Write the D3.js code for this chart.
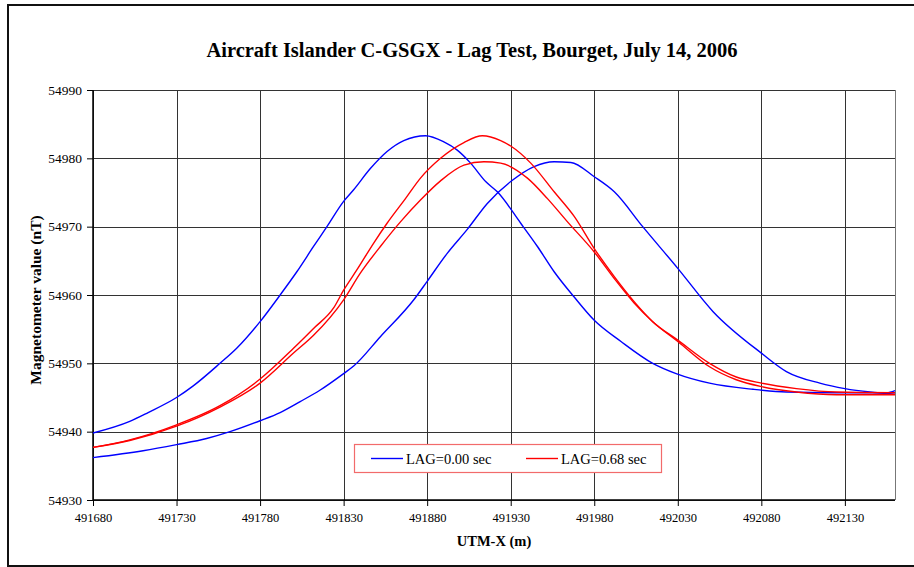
<!DOCTYPE html>
<html>
<head>
<meta charset="utf-8">
<script src="https://cdn.jsdelivr.net/npm/d3@7"></script>
<style>
  body { margin: 0; background: #fff; }
  svg text { font-family: "Liberation Serif", "DejaVu Serif", serif; }
</style>
</head>
<body>
<div id="chart"></div>
<script>
// tick values
const xTicks = [491680, 491730, 491780, 491830, 491880, 491930, 491980, 492030, 492080, 492130];
const yTicks = [54930, 54940, 54950, 54960, 54970, 54980, 54990];

// LAG=0.00 sec, first pass (early peak)
const blueA = [
  [491680, 54939.8], [491702, 54941.5], [491713, 54942.8], [491730, 54945.0], [491740, 54946.7],
  [491756, 54950.0], [491766, 54952.2], [491780, 54956.1], [491792, 54960.0], [491802, 54963.4],
  [491812, 54967.1], [491820, 54970.0], [491830, 54973.7], [491836, 54975.4], [491846, 54978.5],
  [491856, 54981.0], [491866, 54982.6], [491879, 54983.3], [491890, 54982.4], [491898, 54981.2],
  [491906, 54979.3], [491915, 54976.6], [491922, 54975.1], [491936, 54970.5], [491946, 54967.1],
  [491956, 54963.4], [491968, 54959.7], [491980, 54956.3], [491996, 54953.2], [492015, 54950.0],
  [492029, 54948.5], [492049, 54947.1], [492075, 54946.2], [492095, 54945.8], [492125, 54945.7],
  [492155, 54945.7], [492160, 54946.0]
];

// LAG=0.00 sec, second pass (late peak)
const blueB = [
  [491680, 54936.2], [491710, 54937.2], [491730, 54938.1], [491748, 54939.0], [491762, 54940.0],
  [491780, 54941.6], [491792, 54942.8], [491804, 54944.4], [491816, 54946.1], [491830, 54948.5],
  [491836, 54949.6], [491852, 54953.9], [491872, 54959.3], [491880, 54962.0], [491892, 54966.1],
  [491904, 54969.6], [491916, 54973.4], [491930, 54976.6], [491944, 54978.8], [491956, 54979.5],
  [491966, 54979.4], [491980, 54977.3], [491992, 54975.1], [492009, 54970.0], [492030, 54963.9],
  [492051, 54957.6], [492080, 54951.5], [492095, 54948.8], [492115, 54947.1], [492130, 54946.3],
  [492145, 54945.8], [492160, 54945.5]
];

// LAG=0.68 sec, first pass
const redC = [
  [491680, 54937.7], [491702, 54938.8], [491730, 54941.0], [491756, 54943.8], [491780, 54947.7],
  [491800, 54952.2], [491812, 54955.1], [491824, 54958.1], [491830, 54960.7], [491838, 54963.7],
  [491848, 54967.6], [491856, 54970.5], [491867, 54974.1], [491876, 54977.1], [491888, 54980.0],
  [491902, 54982.3], [491913, 54983.3], [491924, 54982.6], [491930, 54981.8], [491942, 54979.3],
  [491956, 54975.1], [491968, 54971.5], [491980, 54966.8], [491992, 54962.7], [492004, 54959.0],
  [492015, 54956.1], [492030, 54953.4], [492049, 54950.0], [492065, 54948.0], [492080, 54947.1],
  [492101, 54946.3], [492125, 54945.8], [492160, 54945.7]
];

// LAG=0.68 sec, second pass
const redD = [
  [491680, 54937.7], [491702, 54938.7], [491730, 54940.8], [491756, 54943.6], [491780, 54947.1],
  [491800, 54951.5], [491812, 54954.1], [491830, 54959.3], [491840, 54963.2], [491852, 54967.1],
  [491864, 54970.7], [491876, 54973.9], [491888, 54976.7], [491902, 54979.0], [491914, 54979.5],
  [491924, 54979.3], [491940, 54977.1], [491952, 54974.1], [491964, 54970.7], [491980, 54966.3],
  [491992, 54962.4], [492004, 54958.8], [492015, 54956.1], [492030, 54953.2], [492049, 54949.5],
  [492065, 54947.6], [492080, 54946.6], [492101, 54945.8], [492125, 54945.4], [492160, 54945.4]
];

const legendLabels = ["LAG=0.00 sec", "LAG=0.68 sec"];
const legendColors = ["#0000ff", "#ff0000"];

const width = 914;
const height = 567;
const margin = { top: 90, right: 19, bottom: 67, left: 93 };

const svg = d3.select('#chart')
  .append('svg')
  .attr('width', width)
  .attr('height', height);

// outer frame
svg.append('rect')
  .attr('x', 8)
  .attr('y', 5)
  .attr('width', 914)
  .attr('height', 561)
  .attr('fill', 'none')
  .attr('stroke', '#111')
  .attr('stroke-width', 2);

const x = d3.scaleLinear()
  .domain([491680, 492160])
  .range([margin.left, width - margin.right]);

const y = d3.scaleLinear()
  .domain([54930, 54990])
  .range([height - margin.bottom, margin.top]);

// grid
const grid = svg.append('g').attr('shape-rendering', 'crispEdges');
grid.selectAll('line.v')
  .data(xTicks)
  .enter()
  .append('line')
  .attr('x1', d => Math.round(x(d)) + 0.5)
  .attr('x2', d => Math.round(x(d)) + 0.5)
  .attr('y1', y(54990))
  .attr('y2', y(54930))
  .attr('stroke', '#333');
grid.selectAll('line.h')
  .data(yTicks)
  .enter()
  .append('line')
  .attr('x1', x(491680))
  .attr('x2', x(492160))
  .attr('y1', d => Math.round(y(d)) + 0.5)
  .attr('y2', d => Math.round(y(d)) + 0.5)
  .attr('stroke', '#333');
// right edge of plot area
grid.append('line')
  .attr('x1', Math.round(x(492160)) + 0.5)
  .attr('x2', Math.round(x(492160)) + 0.5)
  .attr('y1', y(54990))
  .attr('y2', y(54930))
  .attr('stroke', '#777');

// axes
const xAxis = d3.axisBottom(x)
  .tickValues(xTicks)
  .tickSize(6)
  .tickFormat(d => d);
const yAxis = d3.axisLeft(y)
  .tickValues(yTicks)
  .tickSize(6)
  .tickFormat(d => d);

const gx = svg.append('g')
  .attr('transform', `translate(0, ${y(54930)})`)
  .call(xAxis);
gx.select('.domain').attr('stroke', '#000').attr('stroke-width', 1.5)
  .attr('d', `M${x(491680)},0H${x(492160)}`);
gx.selectAll('.tick line').attr('stroke', '#000');
gx.selectAll('.tick text')
  .attr('font-family', '"Liberation Serif", serif')
  .attr('font-size', '12.5px')
  .attr('fill', '#000')
  .attr('dy', '1.0em');

const gy = svg.append('g')
  .attr('transform', `translate(${x(491680)}, 0)`)
  .call(yAxis);
gy.select('.domain').attr('stroke', '#000').attr('stroke-width', 1.5)
  .attr('d', `M0,${y(54930)}V${y(54990)}`);
gy.selectAll('.tick line').attr('stroke', '#000');
gy.selectAll('.tick text')
  .attr('font-family', '"Liberation Serif", serif')
  .attr('font-size', '13.5px')
  .attr('fill', '#000')
  .attr('x', -11);

// curves
const line = d3.line()
  .x(d => x(d[0]))
  .y(d => y(d[1]))
  .curve(d3.curveMonotoneX);

const series = [
  { data: blueA, color: legendColors[0] },
  { data: blueB, color: legendColors[0] },
  { data: redD, color: legendColors[1] },
  { data: redC, color: legendColors[1] }
];

svg.selectAll('path.curve')
  .data(series)
  .enter()
  .append('path')
  .attr('class', 'curve')
  .attr('d', d => line(d.data))
  .attr('fill', 'none')
  .attr('stroke', d => d.color)
  .attr('stroke-width', 1.4);

// legend
const legend = svg.append('g');
legend.append('rect')
  .attr('x', 354.5)
  .attr('y', 444.5)
  .attr('width', 307)
  .attr('height', 28)
  .attr('fill', '#fff')
  .attr('stroke', '#f26b6b')
  .attr('stroke-width', 1.2);

const items = legend.selectAll('g.item')
  .data(legendLabels)
  .enter()
  .append('g')
  .attr('transform', (d, i) => `translate(${371 + i * 155}, 458.5)`);
items.append('line')
  .attr('x1', 0)
  .attr('x2', 32)
  .attr('stroke', (d, i) => legendColors[i])
  .attr('stroke-width', 1.4);
items.append('text')
  .attr('x', 35)
  .attr('y', 5)
  .attr('font-size', '14.5px')
  .text(d => d);

// title
svg.append('text')
  .attr('x', 472)
  .attr('y', 57)
  .attr('text-anchor', 'middle')
  .attr('font-size', '20.5px')
  .attr('font-weight', 'bold')
  .text('Aircraft Islander C-GSGX - Lag Test, Bourget, July 14, 2006');

// axis titles
svg.append('text')
  .attr('x', 494)
  .attr('y', 546)
  .attr('text-anchor', 'middle')
  .attr('font-size', '14.5px')
  .attr('font-weight', 'bold')
  .text('UTM-X (m)');

svg.append('text')
  .attr('transform', 'translate(41, 300) rotate(-90)')
  .attr('text-anchor', 'middle')
  .attr('font-size', '15.5px')
  .attr('font-weight', 'bold')
  .text('Magnetometer value (nT)');
</script>
</body>
</html>
